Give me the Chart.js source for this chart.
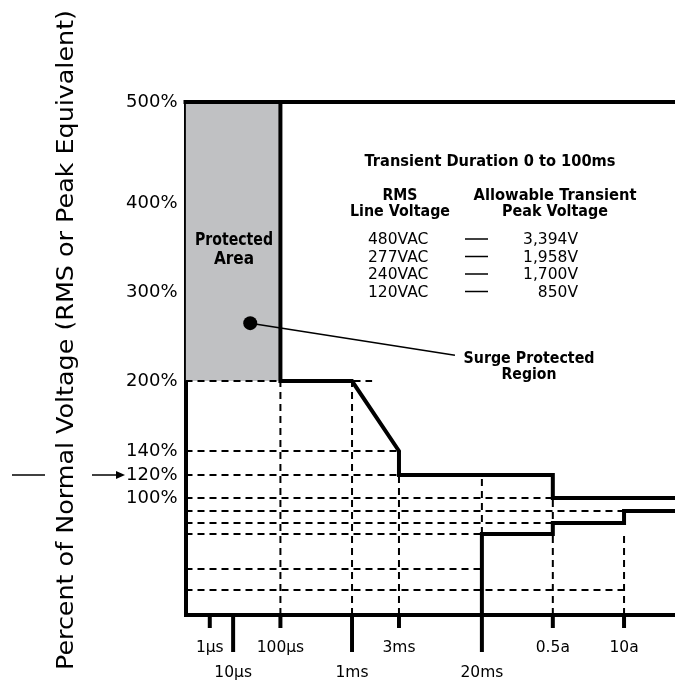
<!DOCTYPE html>
<html>
<head>
<meta charset="utf-8">
<script src="https://cdn.jsdelivr.net/npm/chart.js@4/dist/chart.umd.min.js"></script>
<style>
html,body{margin:0;padding:0;background:#fff;overflow:hidden;}
#wrap{width:675px;height:681px;position:relative;}
</style>
</head>
<body>
<div id="wrap"><canvas id="c"></canvas></div>
<script>
// ---------------- data ----------------
// x values are durations in seconds, y values are percent of normal voltage
const xTickValues = [1e-6, 1e-5, 1e-4, 1e-3, 3e-3, 2e-2, 0.5, 10];
const xTickLabels = ['1μs', '10μs', '100μs', '1ms', '3ms', '20ms', '0.5a', '10a'];
const xTickLowerRow = [false, true, false, true, false, true, false, false];
const yTickValues = [500, 400, 300, 200, 140, 120, 100];
const yTickLabels = ['500%', '400%', '300%', '200%', '140%', '120%', '100%'];

const xMin = 1e-7, xMax = 100, yMin = 0, yMax = 500;

// outer boundary (top line)
const topX = [1e-7, 100];
const topY = [500, 500];
// protected area (shaded) : from left edge to 100us, 200% .. 500%
const protectedX = [1e-7, 1e-4];
const protectedTop = [500, 500];
const protectedBase = 200;
// upper limit curve
const upperX = [1e-4, 1e-4, 1e-3, 3e-3, 3e-3, 0.5, 0.5, 100];
const upperY = [500, 200, 200, 140, 120, 120, 100, 100];
// lower limit curve
const lowerX = [0.02, 0.02, 0.5, 0.5, 10, 10, 100];
const lowerY = [0, 70, 70, 80, 80, 90, 90];
// dashed horizontal reference lines: level, start, end
const hDashLevel = [200, 140, 120, 100, 90, 80, 70, 40, 20];
const hDashStart = [1e-7, 1e-7, 1e-7, 1e-7, 1e-7, 1e-7, 1e-7, 1e-7, 1e-7];
const hDashEnd = [1.6e-3, 3e-3, 3e-3, 0.5, 10, 0.5, 0.02, 0.02, 10];
// dashed vertical reference lines: time, from, to
const vDashTime = [1e-4, 1e-3, 3e-3, 0.02, 0.5, 10];
const vDashFrom = [0, 0, 0, 70, 0, 0];
const vDashTo = [200, 200, 120, 120, 100, 70];
// "Surge Protected Region" pointer
const pointerX = [2.3e-5, 0.0108];
const pointerY = [265, 229];

// table text
const tableTitle = 'Transient Duration 0 to 100ms';
const rmsVoltages = ['480VAC', '277VAC', '240VAC', '120VAC'];
const peakVoltages = ['3,394V', '1,958V', '1,700V', '850V'];

// ---------------- piecewise (diagram) scale ----------------
// axis layout: fraction of axis length for each knot value
const axisKnots = {
  x: { log: true,
       values: [1e-7, 1e-6, 1e-5, 1e-4, 1e-3, 3e-3, 0.02, 0.5, 10, 100],
       fracs:  [0, 0.0496, 0.0973, 0.1939, 0.3402, 0.4361, 0.6055, 0.7504, 0.8959, 1] },
  y: { log: false,
       values: [0, 20, 40, 70, 80, 90, 100, 120, 140, 200, 300, 400, 500],
       fracs:  [0, 0.0487, 0.0897, 0.1579, 0.1793, 0.2027, 0.2281, 0.2729, 0.3197, 0.4561, 0.6296, 0.8031, 1] }
};

class PiecewiseScale extends Chart.LinearScale {
  _knots() { return axisKnots[this.id]; }
  _toDecimal(v) {
    const k = this._knots();
    const t = k.log ? (z => Math.log10(z)) : (z => z);
    const vals = k.values, fr = k.fracs;
    let i = 0;
    if (v <= vals[0]) i = 0;
    else if (v >= vals[vals.length - 1]) i = vals.length - 2;
    else { while (i < vals.length - 2 && v > vals[i + 1]) i++; }
    const a = t(vals[i]), b = t(vals[i + 1]);
    return fr[i] + (t(v) - a) / (b - a) * (fr[i + 1] - fr[i]);
  }
  getPixelForValue(value) {
    if (value === null || value === undefined || isNaN(value)) return NaN;
    return this.getPixelForDecimal(this._toDecimal(value));
  }
  getValueForPixel(pixel) {
    const k = this._knots();
    const d = this.getDecimalForPixel(pixel);
    const vals = k.values, fr = k.fracs;
    let i = 0;
    while (i < fr.length - 2 && d > fr[i + 1]) i++;
    const t = k.log ? (z => Math.log10(z)) : (z => z);
    const a = t(vals[i]), b = t(vals[i + 1]);
    const r = a + (d - fr[i]) / (fr[i + 1] - fr[i]) * (b - a);
    return k.log ? Math.pow(10, r) : r;
  }
}
PiecewiseScale.id = 'piecewise';
PiecewiseScale.defaults = Chart.LinearScale.defaults;
Chart.register(PiecewiseScale);

// ---------------- datasets ----------------
const pts = (xs, ys) => xs.map((x, i) => ({ x: x, y: ys[i] }));
const hDashData = [];
hDashLevel.forEach((lv, i) => {
  hDashData.push({ x: hDashStart[i], y: lv }, { x: hDashEnd[i], y: lv }, { x: hDashEnd[i], y: null });
});
const vDashData = [];
vDashTime.forEach((t, i) => {
  vDashData.push({ x: t, y: vDashFrom[i] }, { x: t, y: vDashTo[i] }, { x: t, y: null });
});

const solid = { borderColor: '#000', borderWidth: 4, pointRadius: 0, tension: 0, fill: false, clip: false,
                borderJoinStyle: 'miter', borderCapStyle: 'square' };
const dashed = { borderColor: '#000', borderWidth: 2, borderDash: [7, 5], pointRadius: 0, tension: 0,
                 fill: false, spanGaps: false, clip: false };

const datasets = [
  Object.assign({ label: 'Boundary', data: pts(topX, topY), order: 1 }, solid),
  Object.assign({ label: 'Upper limit', data: pts(upperX, upperY), order: 1 }, solid),
  Object.assign({ label: 'Lower limit', data: pts(lowerX, lowerY), order: 1 }, solid, { borderCapStyle: 'butt' }),
  { label: 'Pointer', data: pts(pointerX, pointerY), borderColor: '#000', borderWidth: 1.6, pointRadius: [7, 0],
    pointBackgroundColor: '#000', pointBorderWidth: 0, tension: 0, fill: false, clip: false, order: 2 },
  Object.assign({ label: 'Reference levels', data: hDashData, order: 3 }, dashed),
  Object.assign({ label: 'Reference times', data: vDashData, order: 3 }, dashed),
  { label: 'Protected Area', data: pts(protectedX, protectedTop), fill: { value: protectedBase },
    backgroundColor: '#c0c1c3', borderWidth: 0, borderColor: 'rgba(0,0,0,0)', pointRadius: 0, order: 5 }
];

// ---------------- decorations / text plugin ----------------
const FONT = "'DejaVu Sans', sans-serif";
const FONT_COND = "'DejaVu Sans Condensed', 'DejaVu Sans', sans-serif";
const textPlugin = {
  id: 'texts',
  afterDraw(chart) {
    const ctx = chart.ctx;
    const xs = chart.scales.x, ys = chart.scales.y;
    ctx.save();
    ctx.fillStyle = '#000';
    ctx.strokeStyle = '#000';

    // x tick marks (short / long) below the axis
    const base = ys.getPixelForValue(yMin);
    ctx.lineWidth = 4;
    xTickValues.forEach((v, i) => {
      const px = xs.getPixelForValue(v);
      ctx.beginPath();
      ctx.moveTo(px, base);
      ctx.lineTo(px, base + (xTickLowerRow[i] ? 37 : 13));
      ctx.stroke();
    });

    // y axis title, fitted to its length in the figure
    const title = 'Percent of Normal Voltage (RMS or Peak Equivalent)';
    ctx.save();
    ctx.translate(67, 340);
    ctx.rotate(-Math.PI / 2);
    ctx.font = "23px " + FONT;
    const w = ctx.measureText(title).width;
    ctx.scale(660 / w, 1);
    ctx.textAlign = 'center';
    ctx.textBaseline = 'middle';
    ctx.fillText(title, 0, 0);
    ctx.restore();

    // dash and arrow pointing to 120%
    const y120 = ys.getPixelForValue(120);
    ctx.lineWidth = 1.5;
    ctx.beginPath(); ctx.moveTo(12, y120); ctx.lineTo(45, y120); ctx.stroke();
    ctx.beginPath(); ctx.moveTo(92, y120); ctx.lineTo(122, y120); ctx.stroke();
    ctx.beginPath(); ctx.moveTo(125, y120); ctx.lineTo(116, y120 - 4); ctx.lineTo(116, y120 + 4); ctx.closePath(); ctx.fill();

    ctx.textBaseline = 'middle';
    ctx.textAlign = 'center';
    // protected area label
    ctx.font = "bold 17px " + FONT_COND;
    ctx.fillText('Protected', 234, 241, 78);
    ctx.fillText('Area', 234, 260);

    // surge protected region
    ctx.font = "bold 15px " + FONT;
    ctx.fillText('Surge Protected', 529, 359, 131);
    ctx.fillText('Region', 529, 375, 55);

    // table
    ctx.fillText(tableTitle, 490, 162, 251);
    ctx.fillText('RMS', 400, 196, 35);
    ctx.fillText('Line Voltage', 400, 212.5, 100);
    ctx.fillText('Allowable Transient', 555, 196, 163);
    ctx.fillText('Peak Voltage', 555, 212.5, 106);

    ctx.font = "15.5px " + FONT;
    const rowY = [240, 257.5, 275, 292.5];
    rowY.forEach((y, i) => {
      ctx.textAlign = 'left';
      ctx.fillText(rmsVoltages[i], 368, y, 62);
      ctx.textAlign = 'right';
      ctx.fillText(peakVoltages[i], 578, y);
      ctx.lineWidth = 1.5;
      ctx.beginPath(); ctx.moveTo(465, y - 1); ctx.lineTo(488, y - 1); ctx.stroke();
    });
    ctx.restore();
  }
};

// ---------------- chart ----------------
new Chart(document.getElementById('c'), {
  type: 'line',
  data: { datasets: datasets },
  plugins: [textPlugin],
  options: {
    responsive: true,
    maintainAspectRatio: false,
    devicePixelRatio: 1,
    animation: false,
    events: [],
    layout: { autoPadding: false, padding: { top: 102, right: 0, bottom: 0, left: 0 } },
    plugins: { legend: { display: false }, tooltip: { enabled: false }, title: { display: false } },
    scales: {
      x: {
        type: 'piecewise', min: xMin, max: xMax, bounds: 'data',
        grid: { display: false, drawTicks: false },
        border: { display: true, color: '#000', width: 4 },
        afterBuildTicks: s => { s.ticks = xTickValues.map(v => ({ value: v })); },
        afterFit: s => { s.height = 66; s.paddingLeft = 0; s.paddingRight = 0; },
        ticks: {
          autoSkip: false, maxRotation: 0, minRotation: 0, padding: 21, color: '#000',
          font: { family: FONT, size: 15.5, lineHeight: 1.6 },
          callback: (v, i) => xTickLowerRow[i] ? ['', xTickLabels[i]] : xTickLabels[i]
        }
      },
      y: {
        type: 'piecewise', min: yMin, max: yMax, bounds: 'data',
        grid: { display: false, drawTicks: false },
        border: { display: true, color: '#000', width: 4 },
        afterBuildTicks: s => { s.ticks = yTickValues.map(v => ({ value: v })); },
        afterFit: s => { s.width = 185.5; s.paddingTop = 0; s.paddingBottom = 0; },
        ticks: {
          autoSkip: false, padding: 8, color: '#000',
          font: { family: FONT, size: 18 },
          callback: (v, i) => yTickLabels[i]
        }
      }
    }
  }
});
</script>
</body>
</html>
